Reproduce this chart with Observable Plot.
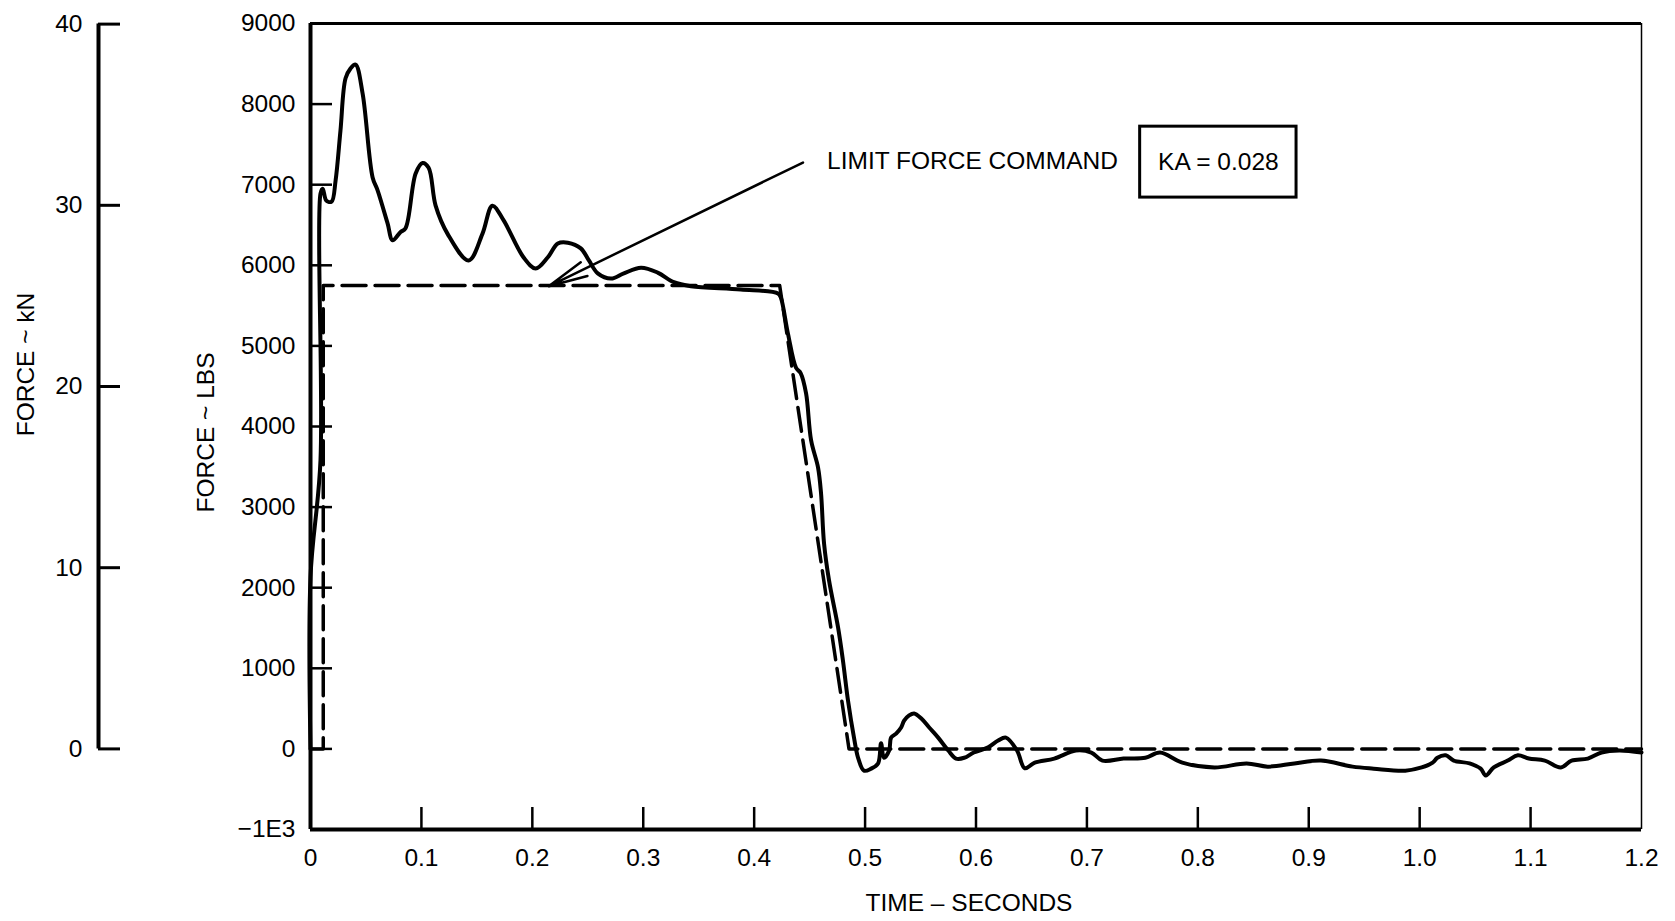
<!DOCTYPE html>
<html><head><meta charset="utf-8">
<script src="https://cdn.jsdelivr.net/npm/d3@7"></script>
<script src="https://cdn.jsdelivr.net/npm/@observablehq/plot@0.6"></script>
<style>html,body{margin:0;padding:0;background:#fff;overflow:hidden}</style>
</head><body><div id="chart"></div>
<script>
// ---- data (time in seconds, force in lbs) ----
const forceTime = [0, 0, 0.009, 0.009, 0.011, 0.0144, 0.019, 0.0226, 0.027, 0.0316, 0.036, 0.0406, 0.047, 0.056, 0.0605, 0.0695, 0.074, 0.081, 0.0857, 0.0948, 0.101, 0.1065, 0.1128, 0.1236, 0.1426, 0.155, 0.164, 0.174, 0.192, 0.203, 0.214, 0.223, 0.232, 0.2437, 0.251, 0.259, 0.271, 0.2825, 0.298, 0.313, 0.3276, 0.343, 0.388, 0.4215, 0.424, 0.4305, 0.4377, 0.442, 0.4468, 0.4513, 0.4576, 0.4603, 0.463, 0.4675, 0.4756, 0.48, 0.4846, 0.49, 0.4937, 0.499, 0.5054, 0.5117, 0.5144, 0.517, 0.5217, 0.5235, 0.528, 0.5325, 0.5352, 0.5397, 0.5442, 0.5505, 0.5578, 0.5659, 0.575, 0.582, 0.5894, 0.598, 0.611, 0.62, 0.627, 0.637, 0.644, 0.653, 0.6706, 0.69, 0.704, 0.714, 0.733, 0.7527, 0.766, 0.786, 0.815, 0.844, 0.863, 0.887, 0.911, 0.9395, 0.9585, 0.987, 1.0018, 1.0117, 1.016, 1.0235, 1.0307, 1.045, 1.055, 1.0596, 1.0668, 1.0794, 1.0885, 1.0984, 1.1128, 1.1273, 1.137, 1.1516, 1.164, 1.18, 1.2];
const forceLbs = [0, 2130, 3580, 6890, 6950, 6800, 6790, 7050, 7670, 8320, 8440, 8490, 8130, 7090, 6930, 6520, 6310, 6410, 6460, 7140, 7270, 7210, 6740, 6390, 6060, 6390, 6740, 6560, 6100, 5960, 6100, 6270, 6280, 6210, 6060, 5900, 5835, 5900, 5970, 5910, 5790, 5740, 5700, 5650, 5600, 5150, 4730, 4660, 4410, 3830, 3490, 3170, 2550, 2090, 1510, 1100, 600, 140, -110, -270, -245, -180, 70, -110, -20, 140, 190, 265, 350, 415, 440, 380, 265, 140, -20, -120, -110, -45, 20, 105, 140, -20, -240, -170, -120, -20, -45, -145, -120, -110, -45, -170, -230, -180, -220, -180, -145, -220, -245, -270, -230, -170, -110, -80, -145, -180, -245, -330, -230, -145, -80, -120, -145, -230, -145, -120, -45, -20, -45];
const commandTime = [0, 0.0115, 0.0115, 0.423, 0.4855, 1.2];
const commandLbs = [0, 0, 5750, 5750, 0, 0];

const xTicks = [0, 0.1, 0.2, 0.3, 0.4, 0.5, 0.6, 0.7, 0.8, 0.9, 1.0, 1.1, 1.2];
const xTickLabels = ["0", "0.1", "0.2", "0.3", "0.4", "0.5", "0.6", "0.7", "0.8", "0.9", "1.0", "1.1", "1.2"];
const yTicks = [-1000, 0, 1000, 2000, 3000, 4000, 5000, 6000, 7000, 8000, 9000];
const yTickLabels = ["\u22121E3", "0", "1000", "2000", "3000", "4000", "5000", "6000", "7000", "8000", "9000"];
const kNTicks = [0, 10, 20, 30, 40];
const kNTickLabels = ["0", "10", "20", "30", "40"];
const LBS_PER_KN = 224.81;

const annotation = [{label: "LIMIT FORCE COMMAND", t: 0.4657, f: 7290, t1: 0.444, f1: 7275, t2: 0.2148, f2: 5740}];
const kaBox = [{text: "KA = 0.028", t1: 0.748, t2: 0.889, f1: 6840, f2: 7720}];

// ---- layout ----
const W = 1675, H = 921, mL = 310, mR = 34, mT = 23, mB = 92;
const frameW = W - mL - mR, frameH = H - mT - mB;
const TICK = 22;
const FS = 24.5;
const KN_DX = -212;

const actual = forceTime.map((t, i) => ({t, f: forceLbs[i]}));
const command = commandTime.map((t, i) => ({t, f: commandLbs[i]}));

const chart = Plot.plot({
  width: W, height: H,
  marginLeft: mL, marginRight: mR, marginTop: mT, marginBottom: mB,
  x: {domain: [0, 1.2], axis: null},
  y: {domain: [-1000, 9000], axis: null},
  style: {fontFamily: "'Liberation Sans', Arial, Helvetica, sans-serif", fontSize: FS + "px", color: "#000", background: "#fff"},
  marks: [
    // frame
    Plot.ruleX([0], {stroke: "#000", strokeWidth: 4}),
    Plot.ruleX([1.2], {stroke: "#000", strokeWidth: 1.5}),
    Plot.ruleY([-1000], {stroke: "#000", strokeWidth: 4}),
    Plot.ruleY([9000], {stroke: "#000", strokeWidth: 3}),
    // inward ticks
    Plot.tickY(yTicks.slice(1, -1), {y: d => d, insetRight: frameW - TICK, stroke: "#000", strokeWidth: 2.5}),
    Plot.tickX(xTicks.slice(1, -1), {x: d => d, insetTop: frameH - TICK, stroke: "#000", strokeWidth: 2.5}),
    // tick labels
    Plot.text(yTicks, {y: d => d, text: (d, i) => yTickLabels[i], frameAnchor: "left", dx: -15, textAnchor: "end", lineAnchor: "middle", fontSize: FS}),
    Plot.text(xTicks, {x: d => d, text: (d, i) => xTickLabels[i], frameAnchor: "bottom", dy: 29, lineAnchor: "middle", fontSize: FS}),
    // axis titles
    Plot.text(["TIME \u2013 SECONDS"], {frameAnchor: "bottom", dx: -7, dy: 74, textAnchor: "middle", lineAnchor: "middle", fontSize: FS}),
    Plot.text(["FORCE ~ LBS"], {frameAnchor: "left", dx: -104, dy: 6, rotate: -90, textAnchor: "middle", lineAnchor: "middle", fontSize: FS}),
    // secondary kN axis
    Plot.ruleX([0], {y1: 0, y2: 40 * LBS_PER_KN, dx: KN_DX, stroke: "#000", strokeWidth: 4}),
    Plot.tickY(kNTicks, {y: d => d * LBS_PER_KN, dx: KN_DX, insetRight: frameW - TICK, stroke: "#000", strokeWidth: 3}),
    Plot.text(kNTicks, {y: d => d * LBS_PER_KN, text: (d, i) => kNTickLabels[i], frameAnchor: "left", dx: KN_DX - 16, textAnchor: "end", lineAnchor: "middle", fontSize: FS}),
    Plot.text(["FORCE ~ kN"], {frameAnchor: "left", dx: -284, dy: -62, rotate: -90, textAnchor: "middle", lineAnchor: "middle", fontSize: FS}),
    // data
    Plot.line(command, {x: "t", y: "f", stroke: "#000", strokeWidth: 3.5, strokeDasharray: "24,9"}),
    Plot.line(actual, {x: "t", y: "f", stroke: "#000", strokeWidth: 4, curve: "catmull-rom"}),
    // annotations
    Plot.arrow(annotation, {x1: "t1", y1: "f1", x2: "t2", y2: "f2", stroke: "#000", strokeWidth: 2.5, headLength: 24, headAngle: 22}),
    Plot.text(annotation, {x: "t", y: "f", text: "label", textAnchor: "start", fontSize: FS}),
    Plot.rect(kaBox, {x1: "t1", x2: "t2", y1: "f1", y2: "f2", fill: "none", stroke: "#000", strokeWidth: 3}),
    Plot.text(kaBox, {x: d => (d.t1 + d.t2) / 2, y: d => (d.f1 + d.f2) / 2, text: "text", fontSize: FS})
  ]
});
document.getElementById("chart").appendChild(chart);
</script>
</body></html>
